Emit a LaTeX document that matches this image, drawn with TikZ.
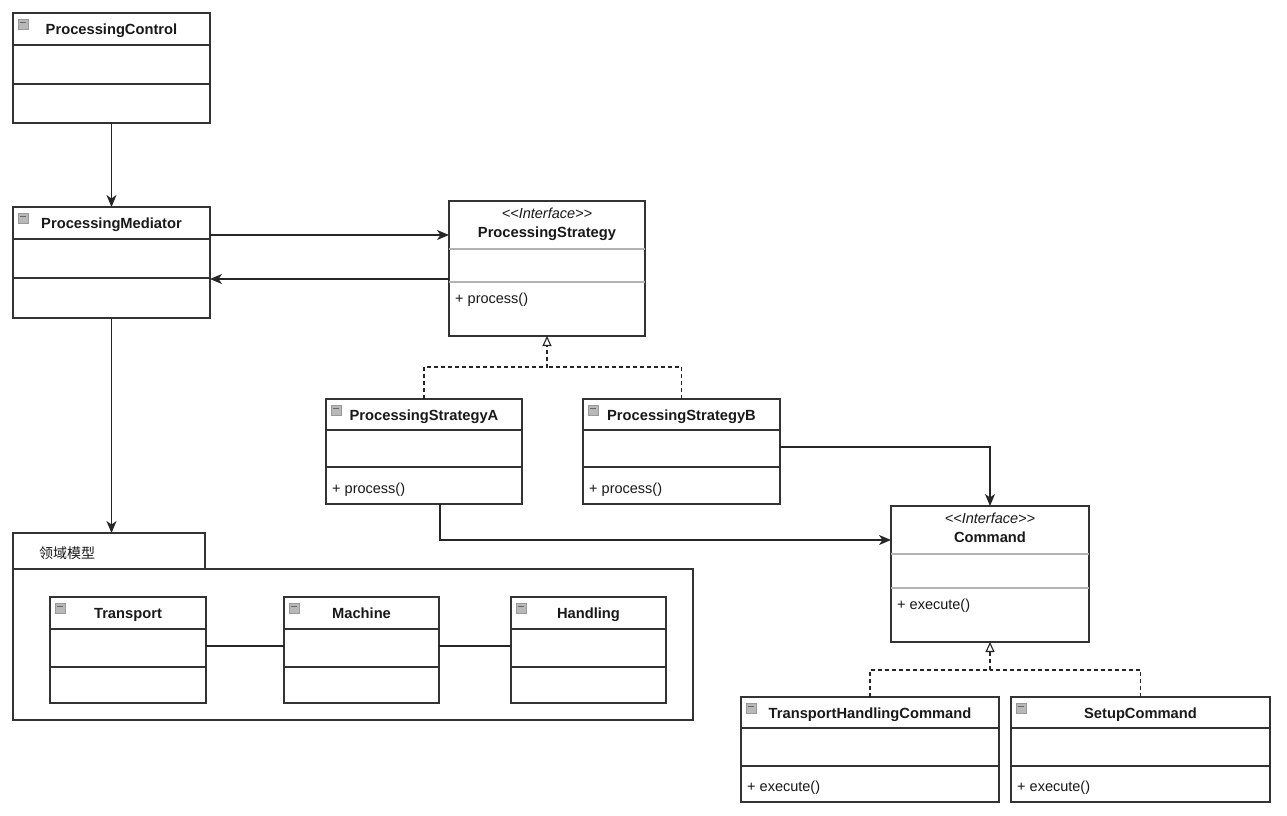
\documentclass[tikz,border=0pt]{standalone}
\usepackage{fontspec}
\setmainfont{Liberation Sans}
\newfontfamily\cjk{Noto Sans CJK SC}
\usetikzlibrary{arrows.meta,calc}
\tikzset{
 clsbox/.style={draw=black!80, fill=white, line width=1.3pt, anchor=north west, inner sep=0pt, outer sep=0pt},
 sepline/.style={draw=black!80, line width=1.3pt},
 isepline/.style={draw=black!30, line width=1.2pt},
 ttl/.style={font=\fontsize{14.7pt}{17pt}\selectfont\bfseries, inner sep=0pt, text height=10.5pt, text depth=3pt, text=black!90},
 ster/.style={font=\fontsize{14.5pt}{17pt}\selectfont\itshape, inner sep=0pt, text height=10.5pt, text depth=3pt, text=black!90},
 meth/.style={font=\fontsize{14.5pt}{17pt}\selectfont, inner sep=0pt, text height=10.5pt, text depth=3pt, anchor=west, text=black!90},
 icon/.style={draw=black!40, fill=black!28, line width=.6pt, minimum width=10pt, minimum height=10pt, inner sep=0pt, anchor=north west,
   path picture={\draw[black!60, line width=1pt] ([xshift=2pt,yshift=-3pt]path picture bounding box.north west) -- ([xshift=-2pt,yshift=-3pt]path picture bounding box.north east);}},
 arr/.style={draw=black!85, line width=1.2pt, -{Stealth[length=12pt,width=10pt,inset=3.5pt]}},
 real/.style={draw=black!85, line width=1.1pt, dash pattern=on 4pt off 3pt, -{Triangle[open,length=10pt,width=9pt,fill=white]}},
 dsh/.style={draw=black!85, line width=1.1pt, dash pattern=on 4pt off 3pt},
 con/.style={draw=black!85, line width=1.2pt},
}
% name, x, y, w, h, line1, line2, title, method
\newcommand\umlcls[9]{%
 \node[clsbox, minimum width=#4pt, minimum height=#5pt] (#1) at (#2,#3) {};
 \draw[sepline] (#2,#6) -- ++(#4,0);
 \draw[sepline] (#2,#7) -- ++(#4,0);
 \node[icon] (#1-icon) at ({#2+5},{#3+6}) {};
 \node[ttl] (#1-title) at ({#2+#4/2},{(#3+#6)/2+2}) {#8};
 \if\relax\detokenize{#9}\relax\else
 \node[meth] (#1-meth) at ({#2+6},{(#7+#3+#5)/2+4}) {#9};
 \fi
}
\newcommand\umlintf[9]{%
 \node[clsbox, minimum width=#4pt, minimum height=#5pt] (#1) at (#2,#3) {};
 \draw[isepline] (#2,#6) -- ++(#4,0);
 \draw[isepline] (#2,#7) -- ++(#4,0);
 \node[ster] (#1-ster) at ({#2+#4/2},{#3+14}) {<{}<Interface>{}>};
 \node[ttl] (#1-title) at ({#2+#4/2},{#3+32.5}) {#8};
 \node[meth] (#1-meth) at ({#2+6},{#7+17.5}) {#9};
}
\begin{document}
\begin{tikzpicture}[x=1pt,y=-1pt]
\useasboundingbox[fill=white] (0,0) rectangle (1287,815);

% package
\node[clsbox, minimum width=192pt, minimum height=36pt] (pkgtab) at (13,533) {};
\node[clsbox, minimum width=680pt, minimum height=151pt] (pkg) at (13,569) {};
\node[font=\cjk\fontsize{14pt}{17pt}\selectfont, anchor=west, inner sep=0pt, text=black!90] (pkglabel) at (39,553) {领域模型};

\umlcls{pc}{13}{13}{197}{110}{45}{84}{ProcessingControl}{}
\umlcls{pm}{13}{207}{197}{111}{239}{278}{ProcessingMediator}{}
\umlintf{ps}{449}{201}{196}{135}{249}{282}{ProcessingStrategy}{+ process()}
\umlcls{psa}{326}{399}{196}{105}{430}{467}{ProcessingStrategyA}{+ process()}
\umlcls{psb}{583}{399}{197}{105}{430}{467}{ProcessingStrategyB}{+ process()}
\umlintf{cmd}{891}{506}{198}{136}{554}{588}{Command}{+ execute()}
\umlcls{thc}{741}{697}{258}{105}{728}{766}{TransportHandlingCommand}{+ execute()}
\umlcls{sc}{1011}{697}{259}{105}{728}{766}{SetupCommand}{+ execute()}
\umlcls{tr}{50}{597}{156}{106}{629}{667}{Transport}{}
\umlcls{ma}{284}{597}{155}{106}{629}{667}{Machine}{}
\umlcls{ha}{511}{597}{155}{106}{629}{667}{Handling}{}

% connectors
\draw[arr] (pc.south) -- (pm.north);
\coordinate (c1) at ([yshift=27.5pt]pm.east);
\draw[arr] (c1) -- (c1 -| ps.west);
\coordinate (c2) at ([yshift=-10.5pt]ps.west);
\draw[arr] (c2) -- (c2 -| pm.east);
\draw[arr] (pm.south) -- (pm.south |- pkgtab.north);

\coordinate (j1) at ([yshift=-31pt]ps.south);
\draw[real] (psa.north) |- (j1) -- (ps.south);
\draw[dsh] (psb.north) |- (j1);

\coordinate (c3) at ([yshift=34pt]cmd.west);
\coordinate (c4) at ([xshift=16pt]psa.south);
\draw[arr] (c4) |- (c3);
\coordinate (c5) at ([yshift=4.5pt]psb.east);
\draw[arr] (c5) -| (cmd.north);

\coordinate (j2) at ([yshift=-28pt]cmd.south);
\draw[real] (thc.north) |- (j2) -- (cmd.south);
\draw[dsh] (sc.north) |- (j2);

\draw[con] ([yshift=4pt]tr.east) -- ([yshift=4pt]ma.west);
\draw[con] ([yshift=4pt]ma.east) -- ([yshift=4pt]ha.west);
\end{tikzpicture}
\end{document}
